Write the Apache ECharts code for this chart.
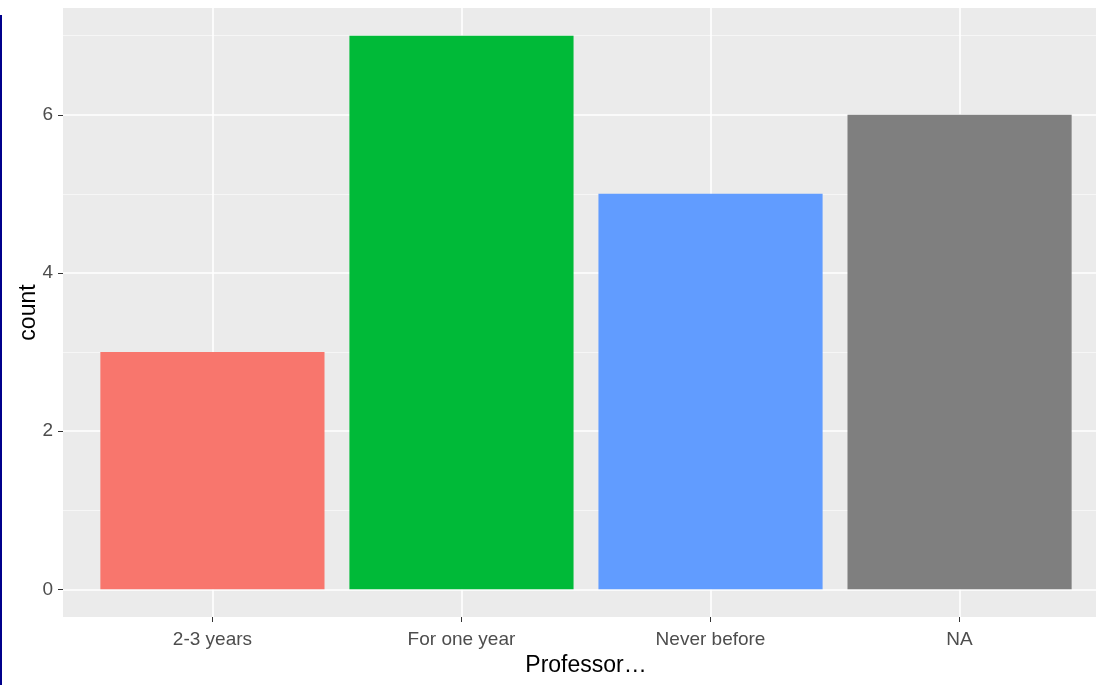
<!DOCTYPE html>
<html>
<head>
<meta charset="utf-8">
<script src="https://cdn.jsdelivr.net/npm/echarts@6/dist/echarts.min.js"></script>
<style>
html,body{margin:0;padding:0;background:#fff;}
#chart{width:1096px;height:685px;}
</style>
</head>
<body>
<div id="chart"></div>
<script>
// Data
const categories = ['2-3 years', 'For one year', 'Never before', 'NA'];
const counts = [3, 7, 5, 6];
const barColors = ['#F8766D', '#00BA38', '#619CFF', '#7F7F7F'];
const yMajorTicks = [0, 2, 4, 6];
const yMinorTicks = [1, 3, 5, 7];
const xPositions = [1, 2, 3, 4];
const xTitle = 'Professor\u2026';
const yTitle = 'count';

const FONT = '"Liberation Sans", Arial, sans-serif';

const chart = echarts.init(document.getElementById('chart'), null, {renderer: 'canvas'});

const barData = categories.map((c, i) => ({
  value: [xPositions[i], counts[i]],
  itemStyle: {color: barColors[i]}
}));

chart.setOption({
  animation: false,
  backgroundColor: '#FFFFFF',
  graphic: [{
    type: 'rect',
    left: 0, top: 15,
    shape: {width: 2, height: 670},
    style: {fill: '#00008B'}
  }],
  grid: {
    left: 63, top: 8, width: 1046, bottom: 68,
    outerBoundsMode: 'none',
    containLabel: false,
    show: true, backgroundColor: '#EBEBEB', borderWidth: 0
  },
  xAxis: {
    type: 'value',
    min: 0.4, max: 4.6,
    name: xTitle,
    nameLocation: 'middle',
    nameGap: 37,
    nameMoveOverlap: false,
    nameTextStyle: {color: '#000000', fontSize: 23, fontFamily: FONT},
    axisLine: {show: false, onZero: false},
    axisTick: {show: true, length: 5, lineStyle: {color: '#333333', width: 1}, customValues: xPositions},
    axisLabel: {
      show: true, customValues: xPositions, margin: 13,
      color: '#4D4D4D', fontSize: 19, fontFamily: FONT,
      formatter: v => categories[Math.round(v) - 1] || ''
    },
    splitLine: {show: true, lineStyle: {color: '#FFFFFF', width: 1.6}}
  },
  yAxis: [{
    type: 'value',
    min: -0.35, max: 7.35,
    name: yTitle,
    nameLocation: 'middle',
    nameGap: 23,
    nameRotate: 90,
    nameMoveOverlap: false,
    nameTextStyle: {color: '#000000', fontSize: 23, fontFamily: FONT},
    axisLine: {show: false, onZero: false},
    axisTick: {show: true, length: 5, lineStyle: {color: '#333333', width: 1}, customValues: yMajorTicks},
    axisLabel: {
      show: true, customValues: yMajorTicks, margin: 10,
      color: '#4D4D4D', fontSize: 19, fontFamily: FONT
    },
    splitLine: {show: true, lineStyle: {color: '#FFFFFF', width: 1.6}}
  }, {
    type: 'value',
    min: -0.35, max: 7.35,
    position: 'left',
    axisLine: {show: false, onZero: false},
    axisTick: {show: false, customValues: yMinorTicks},
    axisLabel: {show: false, customValues: yMinorTicks},
    splitLine: {show: true, lineStyle: {color: '#F6F6F6', width: 1.2}}
  }],
  series: [{
    type: 'bar',
    yAxisIndex: 0,
    barWidth: '90%',
    data: barData
  }]
});
</script>
</body>
</html>
